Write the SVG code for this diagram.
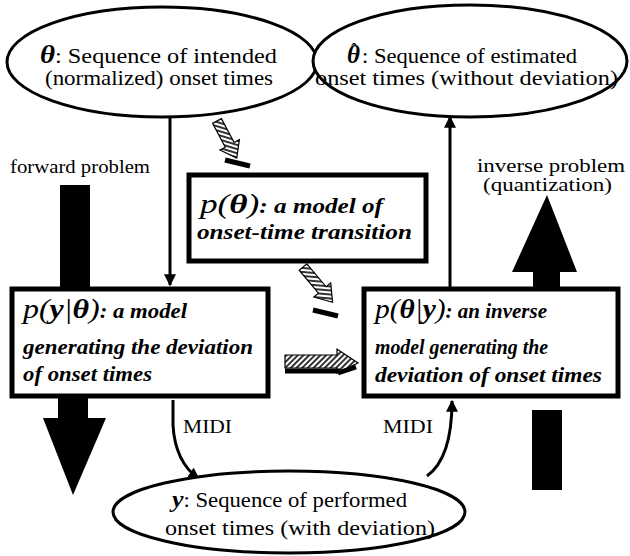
<svg xmlns="http://www.w3.org/2000/svg" width="630" height="556" viewBox="0 0 630 556">
<style>
.bg{fill:#fff}
.ell{fill:#fff;stroke:#000;stroke-width:3}
.box{fill:#fff;stroke:#000;stroke-width:5}
.t{font-family:"Liberation Serif","Times New Roman",serif;font-size:21px;fill:#000}
.bi{font-family:"Liberation Serif","Times New Roman",serif;font-size:20px;font-weight:bold;font-style:italic;fill:#000}
.m{font-size:28px;font-style:italic;font-weight:normal}
.mb{font-weight:bold;font-style:italic}
.lbl{font-family:"Liberation Serif","Times New Roman",serif;font-size:18px;fill:#000}
.ln{fill:none;stroke:#000;stroke-width:3}
.big{fill:#000}
.hat{fill:url(#hatch);stroke:#000;stroke-width:1.2}
.bar{stroke:#000;stroke-width:5;fill:none}
</style>
<defs>
<marker id="ah" viewBox="0 0 10 10" refX="9" refY="5" markerWidth="4" markerHeight="5" orient="auto" markerUnits="strokeWidth">
<path d="M0,0 L10,5 L0,10 Z" fill="#000"/>
</marker>
<pattern id="hatch" width="4" height="4" patternUnits="userSpaceOnUse" patternTransform="rotate(45)">
<rect width="4" height="4" fill="#fff"/>
<line x1="1" y1="0" x2="1" y2="4" stroke="#000" stroke-width="1.6"/>
</pattern>
</defs>
<rect class="bg" width="630" height="556"/>

<g id="connectors">
<line class="ln" x1="170" y1="118" x2="170" y2="285" marker-end="url(#ah)"/>
<line class="ln" x1="450" y1="287" x2="450" y2="117" marker-end="url(#ah)"/>
<path class="ln" d="M173,400 L173,425 Q175,462 199,479" marker-end="url(#ah)"/>
<path class="ln" d="M427,476 Q452,458 452,401" marker-end="url(#ah)"/>
<rect class="big" x="60" y="185" width="30" height="102"/>
<polygon class="big" points="58,398 88,398 88,418 106,418 73,495 43,418 58,418"/>
<polygon class="big" points="533,287 560,287 560,272 577,272 547,195 512,272 533,272"/>
<rect class="big" x="532" y="410" width="30" height="80"/>
<g transform="translate(217,121) rotate(62)">
<path class="hat" d="M0,-5 L27,-5 L27,-11 L42,0 L27,11 L27,5 L0,5 Z"/>
</g>
<line class="bar" x1="225" y1="160" x2="250" y2="166"/>
<g transform="translate(303,267) rotate(50)">
<path class="hat" d="M0,-5 L30,-5 L30,-11 L46,0 L30,11 L30,5 L0,5 Z"/>
</g>
<line class="bar" x1="313" y1="310" x2="338" y2="316"/>
<g transform="translate(285,361)">
<path class="hat" d="M0,-6 L52,-6 L52,-12 L73,2 L52,12 L52,7 L0,7 Z"/>
</g>
<line class="bar" x1="285" y1="371" x2="340" y2="371"/>
<line class="bar" x1="338" y1="373" x2="356" y2="367" stroke-width="4"/>
</g>

<g id="theta">
<ellipse class="ell" cx="162" cy="62" rx="155" ry="55"/>
<text class="t" x="40" y="63" textLength="237" lengthAdjust="spacingAndGlyphs"><tspan class="mb" font-size="25">θ</tspan>: Sequence of intended</text>
<text class="t" x="45" y="85" textLength="228" lengthAdjust="spacingAndGlyphs">(normalized) onset times</text>
</g>

<g id="theta-hat">
<ellipse class="ell" cx="470" cy="61" rx="157" ry="56"/>
<text class="t"><tspan class="mb" x="347" y="63" font-size="25">θ</tspan><tspan x="351" y="56" font-size="18">ˆ</tspan><tspan x="362" y="63" textLength="215" lengthAdjust="spacingAndGlyphs">: Sequence of estimated</tspan></text>
<text class="t" x="315" y="85" textLength="303" lengthAdjust="spacingAndGlyphs">onset times (without deviation)</text>
</g>

<g id="p-theta">
<rect class="box" x="189" y="175" width="237" height="86"/>
<text class="bi" x="200" y="213" textLength="183" lengthAdjust="spacingAndGlyphs"><tspan class="m">p(</tspan><tspan class="m mb">θ</tspan><tspan class="m">)</tspan>: a model of</text>
<text class="bi" x="197" y="239" textLength="215" lengthAdjust="spacingAndGlyphs">onset-time transition</text>
</g>

<g id="p-y-given-theta">
<rect class="box" x="12" y="289" width="256" height="107"/>
<text class="bi" x="23" y="318" textLength="164" lengthAdjust="spacingAndGlyphs"><tspan class="m">p(</tspan><tspan class="m mb">y</tspan><tspan class="m">|</tspan><tspan class="m mb">θ</tspan><tspan class="m">)</tspan>: a model</text>
<text class="bi" x="23" y="354" textLength="230" lengthAdjust="spacingAndGlyphs">generating the deviation</text>
<text class="bi" x="23" y="381" textLength="129" lengthAdjust="spacingAndGlyphs">of onset times</text>
</g>

<g id="p-theta-given-y">
<rect class="box" x="364" y="289" width="254" height="107"/>
<text class="bi" x="375" y="318" textLength="172" lengthAdjust="spacingAndGlyphs"><tspan class="m">p(</tspan><tspan class="m mb">θ</tspan><tspan class="m">|</tspan><tspan class="m mb">y</tspan><tspan class="m">)</tspan>: an inverse</text>
<text class="bi" x="375" y="354" textLength="173" lengthAdjust="spacingAndGlyphs">model generating the</text>
<text class="bi" x="375" y="382" textLength="227" lengthAdjust="spacingAndGlyphs">deviation of onset times</text>
</g>

<g id="y">
<ellipse class="ell" cx="289" cy="512" rx="176" ry="41"/>
<text class="t" x="172" y="507" textLength="235" lengthAdjust="spacingAndGlyphs"><tspan class="mb" font-size="24">y</tspan>: Sequence of performed</text>
<text class="t" x="165" y="535" textLength="270" lengthAdjust="spacingAndGlyphs">onset times (with deviation)</text>
</g>

<g id="labels">
<text class="lbl" x="10" y="173" textLength="140" lengthAdjust="spacingAndGlyphs">forward problem</text>
<text class="lbl" x="477" y="172" textLength="148" lengthAdjust="spacingAndGlyphs">inverse problem</text>
<text class="lbl" x="483" y="191" textLength="129" lengthAdjust="spacingAndGlyphs">(quantization)</text>
<text class="lbl" x="183" y="433" textLength="49" lengthAdjust="spacingAndGlyphs">MIDI</text>
<text class="lbl" x="383" y="433" textLength="50" lengthAdjust="spacingAndGlyphs">MIDI</text>
</g>
</svg>
